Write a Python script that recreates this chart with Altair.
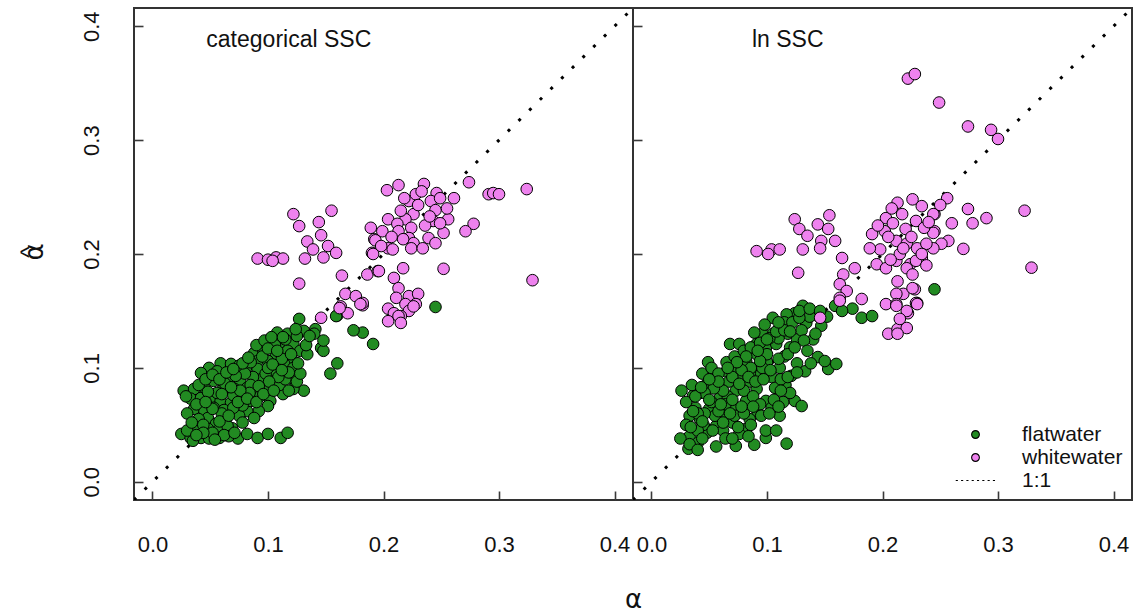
import altair as alt
import pandas as pd

DOM = [-0.016, 0.416]
TICKS = [0.0, 0.1, 0.2, 0.3, 0.4]
TYPES = ["flatwater", "whitewater", "1:1"]
FILLS = ["#228B22", "#EE82EE", "#000000"]
STROKES = ["#000000", "#000000", "#000000"]

# dotted-line legend symbol (short segments)
seg = "".join("M%.2f,0h0.55" % (-5.1 + i * 1.37) for i in range(8))
SHAPES = ["circle", "circle", seg]

# ---------------- left panel: categorical SSC ----------------
L_flat_x = [0.127, 0.160, 0.245, 0.182, 0.191, 0.174, 0.160, 0.154, 0.146, 0.148, 0.141, 0.159,
            0.131, 0.140, 0.108, 0.117, 0.110, 0.122, 0.128, 0.134, 0.117, 0.088, 0.096, 0.107,
            0.122, 0.091, 0.100, 0.114, 0.122, 0.081, 0.091, 0.104, 0.114, 0.121, 0.131, 0.122,
            0.113, 0.102, 0.100, 0.092, 0.082, 0.088, 0.075, 0.069, 0.074, 0.082, 0.091, 0.100,
            0.111, 0.117, 0.049, 0.059, 0.068, 0.075, 0.042, 0.056, 0.066, 0.076, 0.027, 0.036,
            0.045, 0.053, 0.061, 0.071, 0.082, 0.089, 0.033, 0.042, 0.050, 0.059, 0.068, 0.076,
            0.085, 0.036, 0.045, 0.053, 0.064, 0.048, 0.040, 0.055, 0.039, 0.048, 0.057, 0.065,
            0.025, 0.033, 0.042, 0.049, 0.058, 0.035,
            0.062, 0.070, 0.078, 0.094, 0.098, 0.087, 0.105, 0.110, 0.115, 0.125, 0.118, 0.128,
            0.097, 0.093, 0.085, 0.080, 0.072, 0.063, 0.056, 0.048, 0.038, 0.044, 0.052, 0.060,
            0.070, 0.078, 0.066, 0.030, 0.106, 0.115, 0.125, 0.112, 0.100, 0.095, 0.104, 0.085,
            0.078, 0.148,
            0.030, 0.034, 0.040, 0.046, 0.052, 0.058, 0.064, 0.070, 0.083, 0.090, 0.097, 0.103,
            0.100, 0.108, 0.120, 0.126, 0.118, 0.109, 0.101, 0.092, 0.084, 0.076, 0.068, 0.060,
            0.052, 0.046, 0.058, 0.066, 0.074, 0.082, 0.090, 0.096, 0.105, 0.112, 0.044, 0.062,
            0.071, 0.054, 0.038, 0.029, 0.133, 0.136, 0.124, 0.113]
L_flat_y = [0.143, 0.146, 0.1535, 0.131, 0.121, 0.133, 0.104, 0.095, 0.1175, 0.115, 0.134, 0.1455,
            0.1325, 0.130, 0.131, 0.130, 0.122, 0.121, 0.115, 0.112, 0.115, 0.113, 0.115, 0.112,
            0.106, 0.106, 0.106, 0.1035, 0.100, 0.100, 0.099, 0.097, 0.0955, 0.091, 0.080, 0.0815,
            0.077, 0.071, 0.0665, 0.062, 0.062, 0.056, 0.058, 0.047, 0.038, 0.042, 0.0385, 0.042,
            0.0385, 0.043, 0.100, 0.104, 0.1035, 0.102, 0.0955, 0.097, 0.091, 0.0885, 0.080, 0.0815,
            0.0825, 0.0885, 0.0815, 0.0815, 0.0825, 0.080, 0.073, 0.0735, 0.073, 0.071, 0.0695, 0.073,
            0.071, 0.064, 0.062, 0.065, 0.056, 0.056, 0.055, 0.051, 0.047, 0.0465, 0.045, 0.049,
            0.042, 0.0385, 0.0385, 0.038, 0.0385, 0.036,
            0.063, 0.076, 0.067, 0.090, 0.095, 0.092, 0.088, 0.085, 0.090, 0.088, 0.080, 0.095,
            0.082, 0.075, 0.085, 0.095, 0.093, 0.086, 0.078, 0.079, 0.068, 0.050, 0.043, 0.060,
            0.065, 0.052, 0.040, 0.045, 0.120, 0.125, 0.128, 0.108, 0.100, 0.110, 0.103, 0.105,
            0.104, 0.124,
            0.060, 0.052, 0.085, 0.090, 0.094, 0.090, 0.096, 0.099, 0.109, 0.120, 0.124, 0.127,
            0.117, 0.115, 0.112, 0.104, 0.096, 0.092, 0.088, 0.084, 0.078, 0.080, 0.083, 0.077,
            0.064, 0.070, 0.053, 0.058, 0.070, 0.073, 0.070, 0.077, 0.080, 0.098, 0.043, 0.041,
            0.043, 0.037, 0.041, 0.075, 0.120, 0.128, 0.134, 0.127]
L_white_x = [0.122, 0.127, 0.144, 0.155, 0.146, 0.134, 0.139, 0.152, 0.159, 0.148, 0.132, 0.091,
             0.100, 0.107, 0.113, 0.104, 0.127, 0.164, 0.186, 0.195, 0.189, 0.192, 0.190, 0.167,
             0.176, 0.182, 0.163, 0.169, 0.146, 0.274, 0.291, 0.295, 0.300, 0.324, 0.329, 0.252,
             0.278, 0.271, 0.261, 0.256, 0.252, 0.246, 0.235, 0.213, 0.203, 0.222, 0.228, 0.241,
             0.249, 0.218, 0.226, 0.219, 0.204, 0.245, 0.243, 0.249, 0.212, 0.199, 0.213, 0.224,
             0.193, 0.222, 0.239, 0.245, 0.226, 0.204, 0.191, 0.208, 0.224, 0.234, 0.217, 0.196,
             0.217, 0.209, 0.213, 0.211, 0.222, 0.230, 0.228, 0.219, 0.204, 0.209, 0.222, 0.215,
             0.182, 0.213, 0.215, 0.204, 0.226, 0.162, 0.180,
             0.230, 0.236, 0.215, 0.207, 0.233, 0.198, 0.255, 0.240]
L_white_y = [0.235, 0.2245, 0.228, 0.238, 0.2165, 0.211, 0.204, 0.207, 0.201, 0.197, 0.196, 0.196,
             0.195, 0.197, 0.196, 0.194, 0.174, 0.181, 0.182, 0.185, 0.223, 0.213, 0.201, 0.165,
             0.163, 0.155, 0.154, 0.148, 0.144, 0.263, 0.2525, 0.2535, 0.2525, 0.257, 0.177, 0.187,
             0.2265, 0.220, 0.249, 0.2305, 0.2185, 0.2535, 0.2615, 0.2605, 0.256, 0.2465, 0.2525, 0.2465,
             0.249, 0.249, 0.235, 0.2305, 0.2305, 0.2385, 0.229, 0.227, 0.2265, 0.220, 0.220, 0.223,
             0.212, 0.214, 0.214, 0.2095, 0.2095, 0.205, 0.200, 0.204, 0.205, 0.205, 0.213, 0.185,
             0.1875, 0.179, 0.170, 0.1615, 0.163, 0.165, 0.156, 0.156, 0.152, 0.148, 0.150, 0.1455,
             0.157, 0.1455, 0.1395, 0.141, 0.154, 0.1525, 0.156,
             0.243, 0.225, 0.238, 0.215, 0.255, 0.207, 0.240, 0.233]

# ---------------- right panel: ln SSC ----------------
R_flat_x = [0.245, 0.159, 0.174, 0.182, 0.191, 0.147, 0.134, 0.131, 0.124, 0.117, 0.105, 0.111,
            0.118, 0.105, 0.096, 0.089, 0.091, 0.099, 0.108, 0.068, 0.076, 0.049, 0.144, 0.153,
            0.160, 0.133, 0.126, 0.121, 0.111, 0.107, 0.124, 0.130, 0.111, 0.091, 0.082, 0.073,
            0.088, 0.065, 0.056, 0.048, 0.026, 0.036, 0.042, 0.059, 0.073, 0.091, 0.099, 0.082,
            0.073, 0.065, 0.050, 0.033, 0.042, 0.056, 0.048, 0.033, 0.025, 0.040, 0.032, 0.056,
            0.073, 0.089, 0.099, 0.099, 0.117, 0.082, 0.076,
            0.060, 0.067, 0.078, 0.085, 0.095, 0.100, 0.115, 0.120, 0.126, 0.130, 0.137, 0.096,
            0.104, 0.116, 0.120, 0.114, 0.104, 0.092, 0.085, 0.070, 0.062, 0.045, 0.038, 0.052,
            0.066, 0.080, 0.088, 0.094, 0.055, 0.064, 0.072, 0.030, 0.040, 0.110, 0.115, 0.098,
            0.052, 0.080, 0.112,
            0.030, 0.035, 0.044, 0.052, 0.058, 0.065, 0.072, 0.080, 0.086, 0.094, 0.102, 0.108,
            0.115, 0.122, 0.128, 0.100, 0.094, 0.086, 0.078, 0.070, 0.062, 0.054, 0.046, 0.038,
            0.034, 0.046, 0.058, 0.068, 0.078, 0.088, 0.106, 0.112, 0.118, 0.126, 0.138, 0.150,
            0.044, 0.064, 0.084, 0.108, 0.140, 0.152, 0.165,
            0.040, 0.050, 0.060, 0.070, 0.076, 0.084, 0.090, 0.097, 0.103, 0.110, 0.118, 0.124,
            0.132, 0.120, 0.110, 0.100, 0.092, 0.082, 0.074, 0.066, 0.058, 0.050, 0.043, 0.036,
            0.044, 0.053, 0.062, 0.075, 0.086, 0.095, 0.102, 0.110, 0.135, 0.142, 0.128, 0.137,
            0.146, 0.033, 0.040, 0.070]
R_flat_y = [0.169, 0.1545, 0.152, 0.144, 0.1455, 0.137, 0.1395, 0.1545, 0.148, 0.147, 0.144, 0.135,
            0.130, 0.130, 0.130, 0.131, 0.121, 0.1175, 0.121, 0.121, 0.121, 0.105, 0.1095, 0.099,
            0.1035, 0.097, 0.104, 0.093, 0.100, 0.0825, 0.071, 0.0665, 0.058, 0.112, 0.106, 0.100,
            0.097, 0.097, 0.090, 0.086, 0.080, 0.0755, 0.078, 0.0735, 0.080, 0.0815, 0.071, 0.071,
            0.065, 0.0595, 0.064, 0.058, 0.055, 0.049, 0.043, 0.040, 0.038, 0.034, 0.029, 0.031,
            0.0315, 0.0325, 0.0385, 0.045, 0.0335, 0.0465, 0.042,
            0.085, 0.088, 0.090, 0.088, 0.095, 0.105, 0.110, 0.118, 0.125, 0.133, 0.145, 0.100,
            0.092, 0.085, 0.078, 0.070, 0.065, 0.060, 0.055, 0.052, 0.045, 0.050, 0.065, 0.070,
            0.075, 0.080, 0.075, 0.068, 0.058, 0.068, 0.058, 0.050, 0.045, 0.126, 0.140, 0.138,
            0.092, 0.060, 0.090,
            0.070, 0.085, 0.095, 0.100, 0.095, 0.105, 0.110, 0.115, 0.118, 0.122, 0.126, 0.132,
            0.133, 0.140, 0.144, 0.112, 0.106, 0.100, 0.098, 0.092, 0.080, 0.082, 0.078, 0.075,
            0.048, 0.060, 0.062, 0.060, 0.066, 0.066, 0.072, 0.080, 0.092, 0.096, 0.104, 0.106,
            0.038, 0.038, 0.040, 0.045, 0.125, 0.145, 0.150,
            0.060, 0.072, 0.068, 0.072, 0.086, 0.092, 0.088, 0.090, 0.098, 0.108, 0.112, 0.118,
            0.124, 0.132, 0.140, 0.125, 0.115, 0.110, 0.105, 0.100, 0.088, 0.090, 0.083, 0.062,
            0.053, 0.045, 0.052, 0.048, 0.050, 0.058, 0.060, 0.066, 0.115, 0.130, 0.150, 0.152,
            0.150, 0.033, 0.028, 0.038]
R_white_x = [0.222, 0.228, 0.249, 0.274, 0.294, 0.300, 0.256, 0.323, 0.329, 0.274, 0.290, 0.278,
             0.270, 0.260, 0.245, 0.234, 0.226, 0.257, 0.245, 0.251, 0.244, 0.234, 0.224, 0.228,
             0.230, 0.222, 0.218, 0.124, 0.128, 0.135, 0.144, 0.154, 0.153, 0.147, 0.159, 0.091,
             0.104, 0.111, 0.101, 0.131, 0.146, 0.127, 0.165, 0.176, 0.166, 0.163, 0.169, 0.163,
             0.182, 0.191, 0.202, 0.203, 0.213, 0.229, 0.217, 0.209, 0.198, 0.189, 0.212, 0.221,
             0.230, 0.238, 0.244, 0.236, 0.195, 0.203, 0.212, 0.221, 0.229, 0.234, 0.213, 0.212,
             0.226, 0.229, 0.203, 0.212, 0.221, 0.146, 0.163, 0.212, 0.230, 0.205, 0.213, 0.221,
             0.215, 0.213, 0.244, 0.220, 0.225, 0.205, 0.215,
             0.208, 0.218, 0.196, 0.240, 0.250, 0.207, 0.226, 0.238]
R_white_y = [0.354, 0.358, 0.333, 0.312, 0.309, 0.301, 0.249, 0.238, 0.188, 0.2395, 0.2315, 0.227,
             0.2045, 0.227, 0.235, 0.242, 0.248, 0.2115, 0.220, 0.209, 0.205, 0.1965, 0.191, 0.169,
             0.157, 0.148, 0.165, 0.2305, 0.222, 0.216, 0.226, 0.234, 0.222, 0.2115, 0.2115, 0.2025,
             0.204, 0.204, 0.200, 0.204, 0.205, 0.1835, 0.1965, 0.1875, 0.182, 0.1735, 0.1675, 0.1615,
             0.1605, 0.2175, 0.220, 0.2315, 0.245, 0.229, 0.235, 0.227, 0.204, 0.205, 0.2115, 0.209,
             0.205, 0.209, 0.2185, 0.223, 0.191, 0.1875, 0.194, 0.1875, 0.194, 0.200, 0.176, 0.165,
             0.170, 0.157, 0.156, 0.156, 0.150, 0.144, 0.159, 0.1545, 0.156, 0.130, 0.134, 0.135,
             0.143, 0.130, 0.235, 0.222, 0.215, 0.215, 0.200,
             0.240, 0.205, 0.225, 0.228, 0.243, 0.195, 0.182, 0.190]

# 1:1 reference line and panel labels
line_x = [-0.016, 0.416]
line_y = [-0.016, 0.416]
label_x = [0.118]
label_y = [0.388]
labels = ["categorical SSC", "ln SSC"]
x_title = "α"
y_title = "α"      # alpha with a hat drawn on top of it
y_title_hat = "^"


def pts(fx, fy, wx, wy):
    rows = [{"x": a, "y": b, "type": "flatwater"} for a, b in zip(fx, fy)]
    rows += [{"x": a, "y": b, "type": "whitewater"} for a, b in zip(wx, wy)]
    return pd.DataFrame(rows)


line_df = pd.DataFrame({"x": line_x, "y": line_y})

FONT = "Liberation Sans"
W, H = 499, 492
TICKC = "#3a3a3a"


def make_axes(left):
    xa = dict(values=TICKS, format=".1f", offset=-9, tickSize=9, tickWidth=1.6, tickColor=TICKC,
              domain=False, grid=False, labelFont=FONT, labelFontSize=22, labelColor="#111",
              labelPadding=34, labelBaseline="top", labelFlush=False, labelOverlap=False)
    ya = dict(values=TICKS, format=".1f", offset=-9, tickSize=9, tickWidth=1.6, tickColor=TICKC,
              domain=False, grid=False, labelFont=FONT, labelFontSize=22, labelColor="#111",
              labelAngle=270, labelAlign="center", labelBaseline="alphabetic", labelPadding=36,
              labelFlush=False, labelOverlap=False, title=None)
    if left:
        xa.update(title=x_title, titleFont="DejaVu Sans", titleFontSize=26, titleFontWeight="normal",
                  titleColor="#111", titleX=W, titleY=116, titleAlign="center",
                  titleBaseline="alphabetic")
    else:
        xa.update(title=None)
        ya.update(labels=False)
    return alt.Axis(**xa), alt.Axis(**ya)


def panel(df, text, left):
    xa, ya = make_axes(left)
    X = alt.X("x:Q", scale=alt.Scale(domain=DOM, nice=False, zero=False), axis=xa)
    Y = alt.Y("y:Q", scale=alt.Scale(domain=DOM, nice=False, zero=False), axis=ya)
    if left:
        leg = None
    else:
        leg = alt.Legend(title=None, orient="bottom-right", offset=9, padding=0,
                         labelFont=FONT, labelFontSize=21, labelColor="#111",
                         symbolSize=60, symbolStrokeColor="black", symbolStrokeWidth=1.1,
                         symbolOpacity=1, labelOffset=36, rowPadding=1, labelLimit=300)
    line = alt.Chart(line_df).mark_line(color="black", strokeDash=[3, 12], strokeWidth=3,
                                        strokeCap="butt", clip=True).encode(x=X, y=Y)
    points = alt.Chart(df).mark_point(filled=True, size=135, strokeWidth=1,
                                      opacity=1).encode(
        x=X, y=Y,
        fill=alt.Fill("type:N", scale=alt.Scale(domain=TYPES, range=FILLS), legend=leg),
        stroke=alt.Stroke("type:N", scale=alt.Scale(domain=TYPES, range=STROKES), legend=leg),
        shape=alt.Shape("type:N", scale=alt.Scale(domain=TYPES, range=SHAPES), legend=leg),
    )
    tdf = pd.DataFrame({"x": label_x, "y": label_y, "t": [text]})
    txt = alt.Chart(tdf).mark_text(font=FONT, fontSize=23, color="#111", align="center",
                                   baseline="middle").encode(x=X, y=Y, text="t:N")
    layers = [line, points, txt]
    if left:
        ttl = alt.Chart(pd.DataFrame({"t": [y_title]})).mark_text(
            font="DejaVu Sans", fontSize=26, color="#111", angle=270, align="center",
            baseline="alphabetic").encode(x=alt.value(-91), y=alt.value(H / 2 - 2), text="t:N")
        hat = alt.Chart(pd.DataFrame({"t": [y_title_hat]})).mark_text(
            font=FONT, fontSize=24, color="#111", angle=270, align="center",
            baseline="alphabetic").encode(x=alt.value(-97), y=alt.value(H / 2 - 2), text="t:N")
        layers += [ttl, hat]
    return alt.layer(*layers).properties(width=W, height=H)


left = panel(pts(L_flat_x, L_flat_y, L_white_x, L_white_y), labels[0], True)
right = panel(pts(R_flat_x, R_flat_y, R_white_x, R_white_y), labels[1], False)

chart = alt.hconcat(left, right, spacing=0, bounds="flush").resolve_scale(
    fill="independent", shape="independent", stroke="independent"
).properties(
    padding={"left": 17, "top": 7, "right": 0, "bottom": 0},
    background="white",
).configure_view(stroke="#333333", strokeWidth=2)

chart.save("out.html", embed_options={"renderer": "svg", "actions": False})
